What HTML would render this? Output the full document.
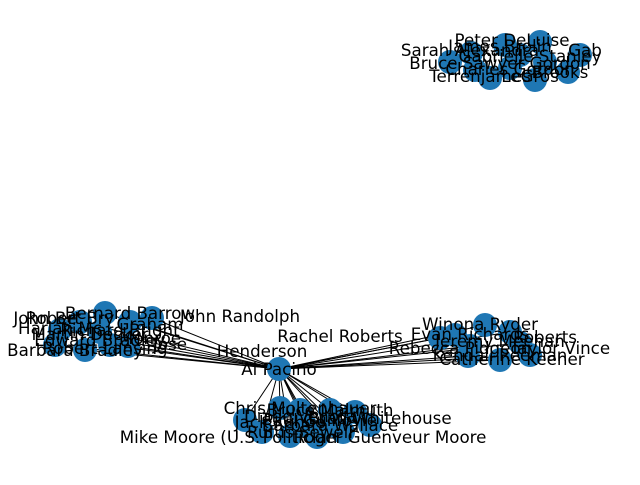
<!DOCTYPE html>
<html><head><meta charset="utf-8"><style>
html,body{margin:0;padding:0;background:#fff;}
svg text{font-family:"DejaVu Sans","Liberation Sans",sans-serif;font-size:16.7px;fill:#000;text-anchor:middle;dominant-baseline:central;}
</style></head><body>
<svg width="640" height="480" viewBox="0 0 640 480" xmlns="http://www.w3.org/2000/svg">
<g stroke="#000" stroke-width="1">
<line x1="279" y1="369" x2="80" y2="322"/><line x1="279" y1="369" x2="85" y2="350"/>
<line x1="279" y1="369" x2="105" y2="313"/><line x1="279" y1="369" x2="128" y2="346"/>
<line x1="279" y1="369" x2="152" y2="318"/><line x1="279" y1="369" x2="55" y2="345"/>
<line x1="279" y1="369" x2="100" y2="332"/><line x1="279" y1="369" x2="130" y2="322"/>
<line x1="279" y1="369" x2="60" y2="330"/><line x1="279" y1="369" x2="110" y2="345"/>
<line x1="279" y1="369" x2="262" y2="432"/><line x1="279" y1="369" x2="290" y2="436"/>
<line x1="279" y1="369" x2="317" y2="437"/><line x1="279" y1="369" x2="343" y2="432"/>
<line x1="279" y1="369" x2="370" y2="425"/><line x1="279" y1="369" x2="280" y2="408"/>
<line x1="279" y1="369" x2="300" y2="410"/><line x1="279" y1="369" x2="330" y2="410"/>
<line x1="279" y1="369" x2="355" y2="412"/><line x1="279" y1="369" x2="245" y2="420"/>
<line x1="279" y1="369" x2="305" y2="425"/><line x1="279" y1="369" x2="330" y2="425"/>
<line x1="279" y1="369" x2="440" y2="338"/><line x1="279" y1="369" x2="470" y2="346"/>
<line x1="279" y1="369" x2="485" y2="325"/><line x1="279" y1="369" x2="500" y2="360"/>
<line x1="279" y1="369" x2="468" y2="356"/><line x1="279" y1="369" x2="520" y2="343"/>
<line x1="279" y1="369" x2="530" y2="355"/><line x1="279" y1="369" x2="455" y2="335"/>
<line x1="279" y1="369" x2="510" y2="332"/>
</g>
<g fill="#1f77b4">
<circle cx="279" cy="369" r="12"/>
<circle cx="80" cy="322" r="12"/><circle cx="85" cy="350" r="12"/><circle cx="105" cy="313" r="12"/>
<circle cx="128" cy="346" r="12"/><circle cx="152" cy="318" r="12"/><circle cx="55" cy="345" r="12"/>
<circle cx="100" cy="332" r="12"/><circle cx="130" cy="322" r="12"/><circle cx="60" cy="330" r="12"/>
<circle cx="110" cy="345" r="12"/>
<circle cx="262" cy="432" r="12"/><circle cx="290" cy="436" r="12"/><circle cx="317" cy="437" r="12"/>
<circle cx="343" cy="432" r="12"/><circle cx="370" cy="425" r="12"/><circle cx="280" cy="408" r="12"/>
<circle cx="300" cy="410" r="12"/><circle cx="330" cy="410" r="12"/><circle cx="355" cy="412" r="12"/>
<circle cx="245" cy="420" r="12"/><circle cx="305" cy="425" r="12"/><circle cx="330" cy="425" r="12"/>
<circle cx="440" cy="338" r="12"/><circle cx="470" cy="346" r="12"/><circle cx="485" cy="325" r="12"/>
<circle cx="500" cy="360" r="12"/><circle cx="468" cy="356" r="12"/><circle cx="520" cy="343" r="12"/>
<circle cx="530" cy="355" r="12"/><circle cx="455" cy="335" r="12"/><circle cx="510" cy="332" r="12"/>
<circle cx="471" cy="53" r="12"/><circle cx="505" cy="45" r="12"/><circle cx="540" cy="42" r="12"/>
<circle cx="475" cy="70" r="12"/><circle cx="510" cy="68" r="12"/><circle cx="545" cy="62" r="12"/>
<circle cx="580" cy="55" r="12"/><circle cx="490" cy="78" r="12"/><circle cx="535" cy="80" r="12"/>
<circle cx="568" cy="72" r="12"/><circle cx="450" cy="62" r="12"/><circle cx="520" cy="55" r="12"/>
</g>
<g>
<text x="279" y="369">Al Pacino</text>
<text x="240" y="316">John Randolph</text>
<text x="130" y="313">Bernard Barrow</text>
<text x="45" y="318">John Be</text>
<text x="70" y="318">Robert Bry</text>
<text x="150" y="324">Graham</text>
<text x="120" y="330">Richard Bright</text>
<text x="60" y="328">Harlan Mc</text>
<text x="150" y="338">Monroe</text>
<text x="170" y="344">Jose</text>
<text x="100" y="340">Edward Bradley</text>
<text x="90" y="334">Martin Decker</text>
<text x="262" y="351">Henderson</text>
<text x="75" y="350">Barbara Bradley</text>
<text x="105" y="348">Robert Lansing</text>
<text x="340" y="336">Rachel Roberts</text>
<text x="480" y="324">Winona Ryder</text>
<text x="470" y="334">Evan Richards</text>
<text x="545" y="337">Roberts</text>
<text x="500" y="341">Jeremy Meehan</text>
<text x="560" y="348">Taylor Vince</text>
<text x="460" y="348">Rebecca Pidgeon</text>
<text x="500" y="355">Kendall Reeman</text>
<text x="512" y="359">Catherine Keener</text>
<text x="300" y="408">Chris Moltenhauer</text>
<text x="330" y="410">Bruce Malmuth</text>
<text x="300" y="416">Diane Venora</text>
<text x="380" y="418">Brad Whitehouse</text>
<text x="320" y="420">Paul Guilfoyle</text>
<text x="280" y="422">Jack Kehoe</text>
<text x="330" y="425">Barbara Wallace</text>
<text x="300" y="432">Rufus Sewell</text>
<text x="190" y="437">Mike Moore (U.S.</text>
<text x="390" y="437">Roger Guenveur Moore</text>
<text x="300" y="437">Politician</text>
<text x="512" y="40">Peter DeLuise</text>
<text x="470" y="50">Sarah Alexandra</text>
<text x="500" y="46">James Brolin</text>
<text x="585" y="50">Gab</text>
<text x="530" y="56">Gabrielle Stanley</text>
<text x="500" y="63">Bruce Sawyer Gordon</text>
<text x="510" y="69">Charles Gordon</text>
<text x="560" y="72">Brooks</text>
<text x="480" y="76">Terrenjames</text>
<text x="530" y="76">LeGros</text>
</g>
</svg>
</body></html>
